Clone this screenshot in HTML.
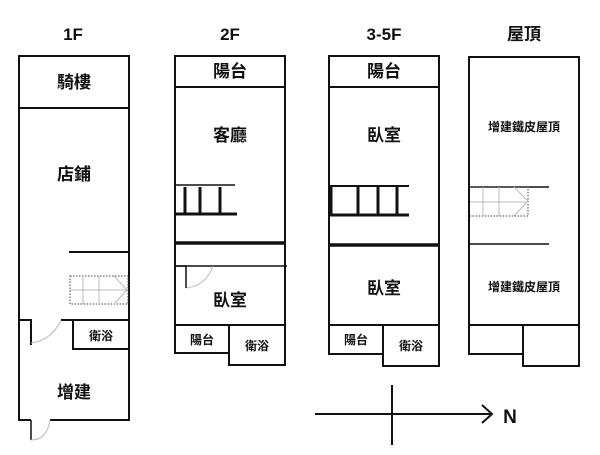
<!DOCTYPE html>
<html><head><meta charset="utf-8"><style>
html,body{margin:0;padding:0;background:#fff;width:600px;height:455px;overflow:hidden}
svg{display:block}
text{font-family:"Liberation Sans","Noto Sans CJK TC",sans-serif;fill:#111;font-weight:bold;text-anchor:middle}
</style></head><body>
<svg width="600" height="455" viewBox="0 0 600 455" xmlns="http://www.w3.org/2000/svg">
<g font-size="17">
<text x="73" y="40">1F</text>
<text x="230" y="40">2F</text>
<text x="384" y="40">3-5F</text>
<text x="524" y="40">屋頂</text>
</g>
<g stroke="#111" stroke-width="2" fill="none">
<!-- 1F -->
<path d="M19 320 V56 H129 V420 H50 M31 420 H19 V320 H31 V345"/>
<path d="M61 320 H129"/>
<line x1="19" y1="108" x2="129" y2="108"/>
<line x1="69" y1="252" x2="129" y2="252"/>
<rect x="73" y="320" width="56" height="29"/>
<path d="M31 420 V440" stroke-width="1.5"/>
<!-- 2F -->
<rect x="175" y="56" width="110" height="269"/>
<line x1="175" y1="87" x2="285" y2="87"/>
<line x1="175" y1="185" x2="235" y2="185" stroke-width="1.5"/>
<line x1="175" y1="214" x2="237" y2="214" stroke-width="3"/>
<line x1="185" y1="187" x2="185" y2="214" stroke-width="3"/>
<line x1="200" y1="187" x2="200" y2="214" stroke-width="3"/>
<line x1="220" y1="187" x2="220" y2="214" stroke-width="3"/>
<line x1="175" y1="243" x2="285" y2="243" stroke-width="3.5"/>
<line x1="175" y1="266" x2="287" y2="266" stroke-width="1.5"/>
<rect x="175" y="325" width="54" height="28"/>
<rect x="229" y="325" width="56" height="40"/>
<!-- 3-5F -->
<rect x="329" y="56" width="110" height="269"/>
<line x1="329" y1="87" x2="439" y2="87"/>
<line x1="329" y1="186" x2="409" y2="186" stroke-width="2"/>
<line x1="329" y1="215" x2="409" y2="215" stroke-width="3"/>
<line x1="331" y1="186" x2="331" y2="215" stroke-width="3"/>
<line x1="358" y1="186" x2="358" y2="215" stroke-width="3"/>
<line x1="378" y1="186" x2="378" y2="215" stroke-width="3"/>
<line x1="397" y1="186" x2="397" y2="215" stroke-width="3"/>
<line x1="329" y1="245" x2="439" y2="245" stroke-width="3.5"/>
<rect x="329" y="325" width="54" height="29"/>
<rect x="383" y="325" width="56" height="41"/>
<!-- roof -->
<rect x="469" y="57" width="110" height="268"/>
<line x1="469" y1="187" x2="549" y2="187" stroke-width="1.5"/>
<line x1="469" y1="244" x2="549" y2="244" stroke-width="1.5"/>
<rect x="469" y="325" width="54" height="29"/>
<rect x="523" y="325" width="56" height="41"/>
<!-- compass -->
<line x1="315" y1="414" x2="492" y2="414"/>
<line x1="392" y1="385" x2="392" y2="445"/>
<path d="M482 405 L492 414 L482 423"/>
</g>
<!-- dotted stairs -->
<g stroke="#888" stroke-width="1" fill="none">
<rect x="70" y="276" width="58" height="28" stroke-dasharray="1.5,1.5" stroke="#444"/>
<line x1="70" y1="290" x2="128" y2="290" stroke="#bbb"/>
<line x1="83" y1="276" x2="83" y2="304" stroke="#bbb"/>
<line x1="99" y1="276" x2="99" y2="304" stroke="#bbb"/>
<path d="M114 276 L127 290 L114 304" stroke="#bbb"/>
<path d="M470 187 H528 V216 H470" stroke-dasharray="1.5,1.5" stroke="#444"/>
<line x1="470" y1="202" x2="528" y2="202" stroke="#bbb"/>
<line x1="483" y1="187" x2="483" y2="216" stroke="#bbb"/>
<line x1="499" y1="187" x2="499" y2="216" stroke="#bbb"/>
<path d="M514 187 L528 201 L514 216" stroke="#bbb"/>
<!-- door arcs -->
<path d="M31 343 Q52 340 61 320" stroke="#bbb"/>
<path d="M31 440 Q47 440 50 420" stroke="#bbb"/>
<path d="M186 288 Q206 286 213 266" stroke="#bbb"/>
<path d="M175 266 H186 V288" stroke="#111" stroke-width="1.5"/>
</g>
<g font-size="17">
<text x="74" y="88">騎樓</text>
<text x="74" y="180">店鋪</text>
<text x="74" y="398">增建</text>
<text x="230" y="77">陽台</text>
<text x="230" y="141">客廳</text>
<text x="230" y="306">臥室</text>
<text x="384" y="77">陽台</text>
<text x="384" y="141">臥室</text>
<text x="384" y="294">臥室</text>
</g>
<g font-size="12">
<text x="101" y="340">衛浴</text>
<text x="202" y="344">陽台</text>
<text x="257" y="350">衛浴</text>
<text x="356" y="344">陽台</text>
<text x="411" y="350">衛浴</text>
<text x="524" y="131">增建鐵皮屋頂</text>
<text x="524" y="291">增建鐵皮屋頂</text>
</g>
<text x="510" y="423" font-size="19">N</text>
</svg>
</body></html>
